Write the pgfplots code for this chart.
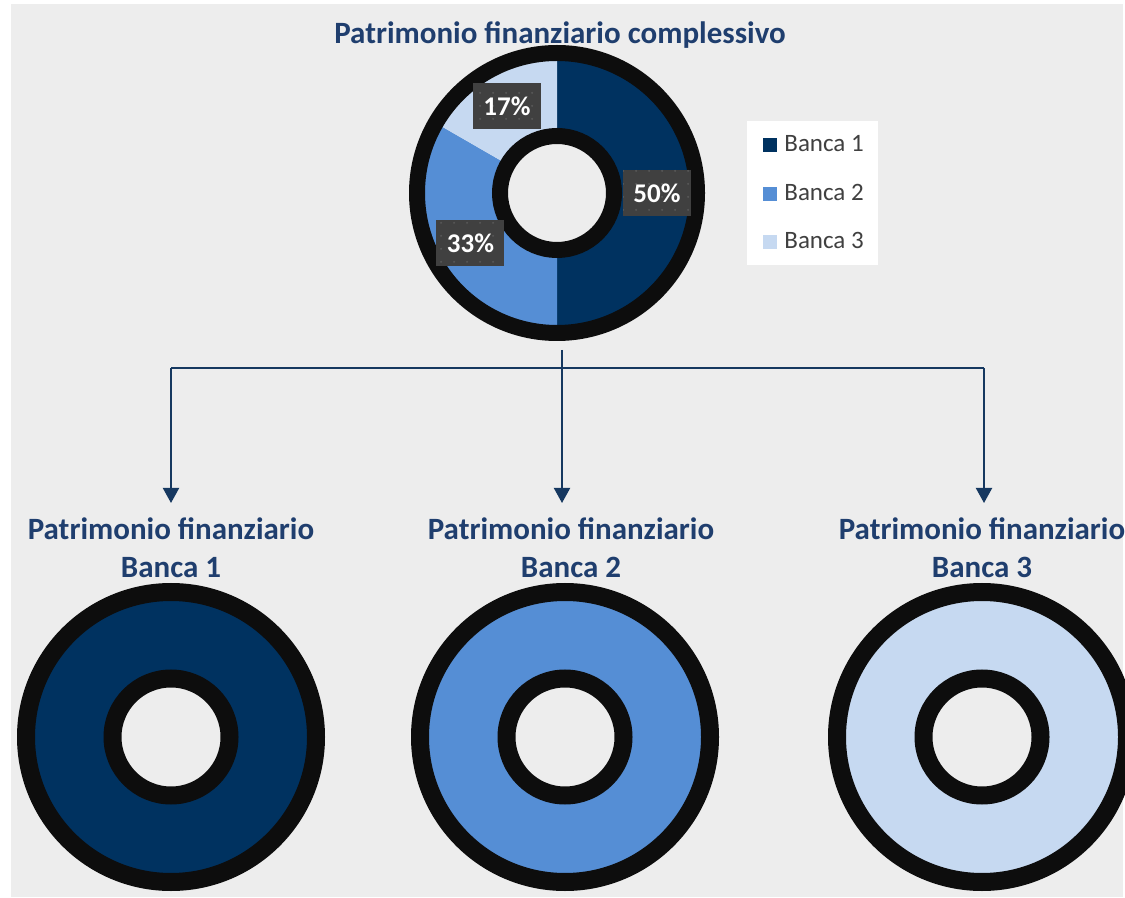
\documentclass[border=0pt]{standalone}
\usepackage{fontspec}
\setmainfont{Carlito}
\usepackage{pgfplots}
\pgfplotsset{compat=1.18}
\usepackage{pgfplotstable}
\usetikzlibrary{arrows.meta,patterns.meta}

\definecolor{bgc}{RGB}{237,237,237}
\definecolor{b1}{RGB}{0,50,96}
\definecolor{b2}{RGB}{85,142,213}
\definecolor{b3}{RGB}{198,217,241}
\definecolor{ringk}{RGB}{13,13,13}
\definecolor{titlec}{RGB}{31,62,110}
\definecolor{linec}{RGB}{22,56,96}
\definecolor{lblc}{RGB}{64,64,64}
\definecolor{dotc}{RGB}{88,88,88}
\definecolor{legc}{RGB}{64,64,64}

% share of each bank in total financial wealth (%)
\pgfplotstableread{
bank share
1 50
2 33.33
3 16.67
}\toptable
% single-bank donuts (each bank = 100% of its own wealth)
\pgfplotstableread{
bank share cx
1 100 171
2 100 565
3 100 982
}\banktable

\newcommand\topwedge[3]{%
  \fill[#3] ({557+140*cos(#1)},{193-140*sin(#1)})
    arc[start angle=#1,end angle=#2,radius=70pt]
    -- ({557+57*cos(#2)},{193-57*sin(#2)})
    arc[start angle=#2,end angle=#1,radius=28.5pt] -- cycle;}

\newcommand\titlefont{\fontsize{15.5pt}{18pt}\selectfont\bfseries}

\begin{document}
\begin{tikzpicture}
\pgfplotstablegetelem{0}{share}\of\toptable\pgfmathsetmacro\sA{\pgfplotsretval}
\pgfplotstablegetelem{1}{share}\of\toptable\pgfmathsetmacro\sB{\pgfplotsretval}
\pgfplotstablegetelem{2}{share}\of\toptable\pgfmathsetmacro\sC{\pgfplotsretval}
\pgfmathsetmacro\aA{90}
\pgfmathsetmacro\aB{\aA-3.6*\sA}
\pgfmathsetmacro\aC{\aB-3.6*\sB}
\pgfmathsetmacro\aD{\aC-3.6*\sC}
\pgfmathsetmacro\mA{(\aA+\aB)/2}
\pgfmathsetmacro\mB{(\aB+\aC)/2}
\pgfmathsetmacro\mC{(\aC+\aD)/2}
\pgfplotstablegetelem{0}{cx}\of\banktable\pgfmathsetmacro\xA{\pgfplotsretval}
\pgfplotstablegetelem{1}{cx}\of\banktable\pgfmathsetmacro\xB{\pgfplotsretval}
\pgfplotstablegetelem{2}{cx}\of\banktable\pgfmathsetmacro\xC{\pgfplotsretval}

\begin{axis}[name=main, at={(0,0)}, anchor=south west,
  x=0.5pt, y=0.5pt, xmin=0, xmax=1125, ymin=0, ymax=898,
  y dir=reverse, hide axis, clip=true]

% background
\fill[bgc] (11,4) rectangle (1123,897);

% top title
\node[anchor=base, text=titlec, font=\titlefont] at (560,44) {Patrimonio finanziario complessivo};

% top donut
\topwedge{\aA}{\aB}{b1}
\topwedge{\aB}{\aC}{b2}
\topwedge{\aC}{\aD}{b3}
\draw[ringk, line width=8pt] (557,193) circle[radius=70pt];
\draw[ringk, line width=8pt] (557,193) circle[radius=28.5pt];

% data labels
\tikzset{lbl/.style={fill=lblc, minimum width=34pt, minimum height=23pt, inner sep=0pt,
  text=white, font=\fontsize{13.5pt}{16pt}\selectfont\bfseries,
  postaction={pattern={Dots[distance=6.5pt,radius=0.55pt]}, pattern color=dotc}}}
\node[lbl] at ({557+100*cos(\mA)},{193-100*sin(\mA)}) {50\%};
\node[lbl] at ({557+100*cos(\mB)},{193-100*sin(\mB)}) {33\%};
\node[lbl] at ({557+100*cos(\mC)},{193-100*sin(\mC)}) {17\%};

% legend
\fill[white] (747,121) rectangle (878,265);
\fill[b1] (763,138) rectangle (777,152);
\fill[b2] (763,187) rectangle (777,201);
\fill[b3] (763,235) rectangle (777,249);
\node[anchor=base west, inner sep=0pt, text=legc, font=\fontsize{12.5pt}{15pt}\selectfont] at (784,152) {Banca 1};
\node[anchor=base west, inner sep=0pt, text=legc, font=\fontsize{12.5pt}{15pt}\selectfont] at (784,201) {Banca 2};
\node[anchor=base west, inner sep=0pt, text=legc, font=\fontsize{12.5pt}{15pt}\selectfont] at (784,249) {Banca 3};

% connectors
\tikzset{conn/.style={linec, line width=1pt}}
\draw[conn] (562,350) -- (562,368);
\draw[conn] (171,368) -- (984,368);
\draw[conn, -{Triangle[width=8pt,length=7.5pt]}] (171,368) -- (171,503);
\draw[conn, -{Triangle[width=8pt,length=7.5pt]}] (562,368) -- (562,503);
\draw[conn, -{Triangle[width=8pt,length=7.5pt]}] (984,368) -- (984,503);

% bottom titles
\node[anchor=base, text=titlec, font=\titlefont] at (171,540) {Patrimonio finanziario};
\node[anchor=base, text=titlec, font=\titlefont] at (171,578) {Banca 1};
\node[anchor=base, text=titlec, font=\titlefont] at (571,540) {Patrimonio finanziario};
\node[anchor=base, text=titlec, font=\titlefont] at (571,578) {Banca 2};
\node[anchor=base, text=titlec, font=\titlefont] at (982,540) {Patrimonio finanziario};
\node[anchor=base, text=titlec, font=\titlefont] at (982,578) {Banca 3};

% bottom donuts
\fill[b1, even odd rule] (\xA,737) circle[radius=72.5pt] (\xA,737) circle[radius=29.25pt];
\fill[b2, even odd rule] (\xB,737) circle[radius=72.5pt] (\xB,737) circle[radius=29.25pt];
\fill[b3, even odd rule] (\xC,737) circle[radius=72.5pt] (\xC,737) circle[radius=29.25pt];
\draw[ringk, line width=9pt] (\xA,737) circle[radius=72.5pt] (\xA,737) circle[radius=29.25pt];
\draw[ringk, line width=9pt] (\xB,737) circle[radius=72.5pt] (\xB,737) circle[radius=29.25pt];
\draw[ringk, line width=9pt] (\xC,737) circle[radius=72.5pt] (\xC,737) circle[radius=29.25pt];
\end{axis}
\pgfresetboundingbox
\useasboundingbox (main.south west) rectangle (main.north east);
\end{tikzpicture}
\end{document}
